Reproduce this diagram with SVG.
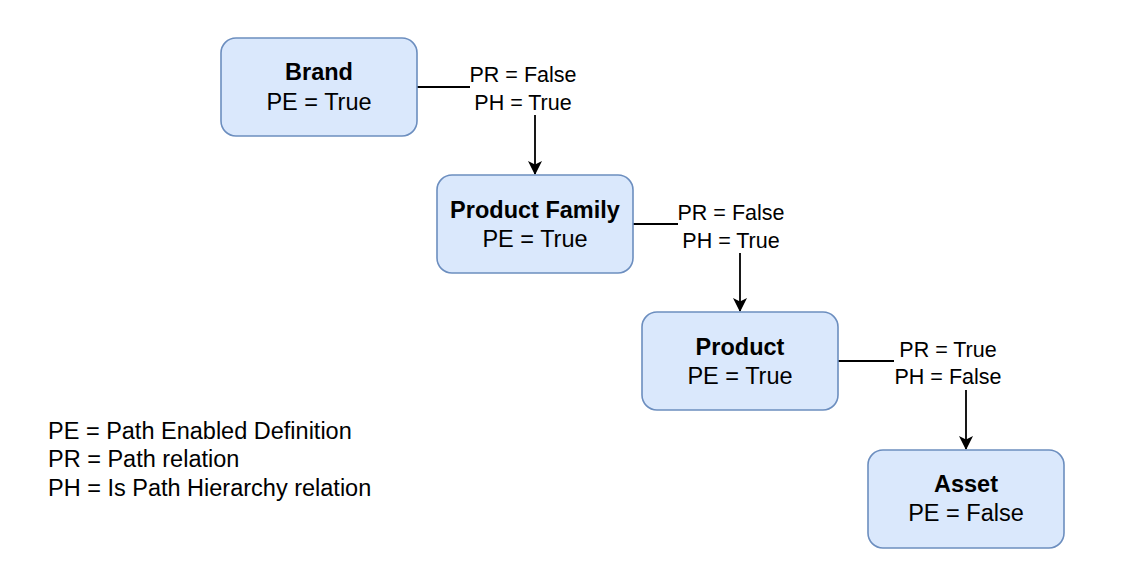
<svg xmlns="http://www.w3.org/2000/svg" width="1122" height="580" viewBox="0 0 1122 580">
<style>
.box{fill:#dae8fc;stroke:#6c8ebf;stroke-width:1.6}
text{font-family:"Liberation Sans",Arial,sans-serif;font-size:23.5px;fill:#000}
.c{text-anchor:middle}
.b{font-weight:bold}
.lt{font-size:21.5px}
.edge{fill:none;stroke:#000;stroke-width:1.8}
.lbg{fill:#fff}
</style>
<defs>
<marker id="arr" viewBox="0 0 14 14" refX="13" refY="7" markerWidth="14" markerHeight="14" markerUnits="userSpaceOnUse" orient="auto">
<path d="M0,0 L14,7 L0,14 L3.5,7 Z" fill="#000"/>
</marker>
</defs>
<rect width="1122" height="580" fill="#fff"/>
<g id="connectors">
<path class="edge" d="M417,87 H535 V174" marker-end="url(#arr)"/>
<path class="edge" d="M633,224 H740 V311" marker-end="url(#arr)"/>
<path class="edge" d="M838,361 H966 V449" marker-end="url(#arr)"/>
<g id="label1">
<rect class="lbg" x="470" y="60" width="107" height="55"/>
<text class="c lt" x="523" y="82">PR = False</text>
<text class="c lt" x="523" y="110">PH = True</text>
</g>
<g id="label2">
<rect class="lbg" x="678" y="198" width="107" height="55"/>
<text class="c lt" x="731" y="220">PR = False</text>
<text class="c lt" x="731" y="248">PH = True</text>
</g>
<g id="label3">
<rect class="lbg" x="894" y="335" width="109" height="55"/>
<text class="c lt" x="948" y="357">PR = True</text>
<text class="c lt" x="948" y="384">PH = False</text>
</g>
</g>
<g id="brand">
<rect class="box" x="221" y="38" width="196" height="98" rx="15"/>
<text class="c b" x="319" y="80">Brand</text>
<text class="c" x="319" y="110">PE = True</text>
</g>
<g id="product-family">
<rect class="box" x="437" y="175" width="196" height="98" rx="15"/>
<text class="c b" x="535" y="218">Product Family</text>
<text class="c" x="535" y="247">PE = True</text>
</g>
<g id="product">
<rect class="box" x="642" y="312" width="196" height="98" rx="15"/>
<text class="c b" x="740" y="355">Product</text>
<text class="c" x="740" y="384">PE = True</text>
</g>
<g id="asset">
<rect class="box" x="868" y="450" width="196" height="98" rx="15"/>
<text class="c b" x="966" y="492">Asset</text>
<text class="c" x="966" y="521">PE = False</text>
</g>
<g id="legend">
<text x="48" y="439">PE = Path Enabled Definition</text>
<text x="48" y="467">PR = Path relation</text>
<text x="48" y="496">PH = Is Path Hierarchy relation</text>
</g>
</svg>
